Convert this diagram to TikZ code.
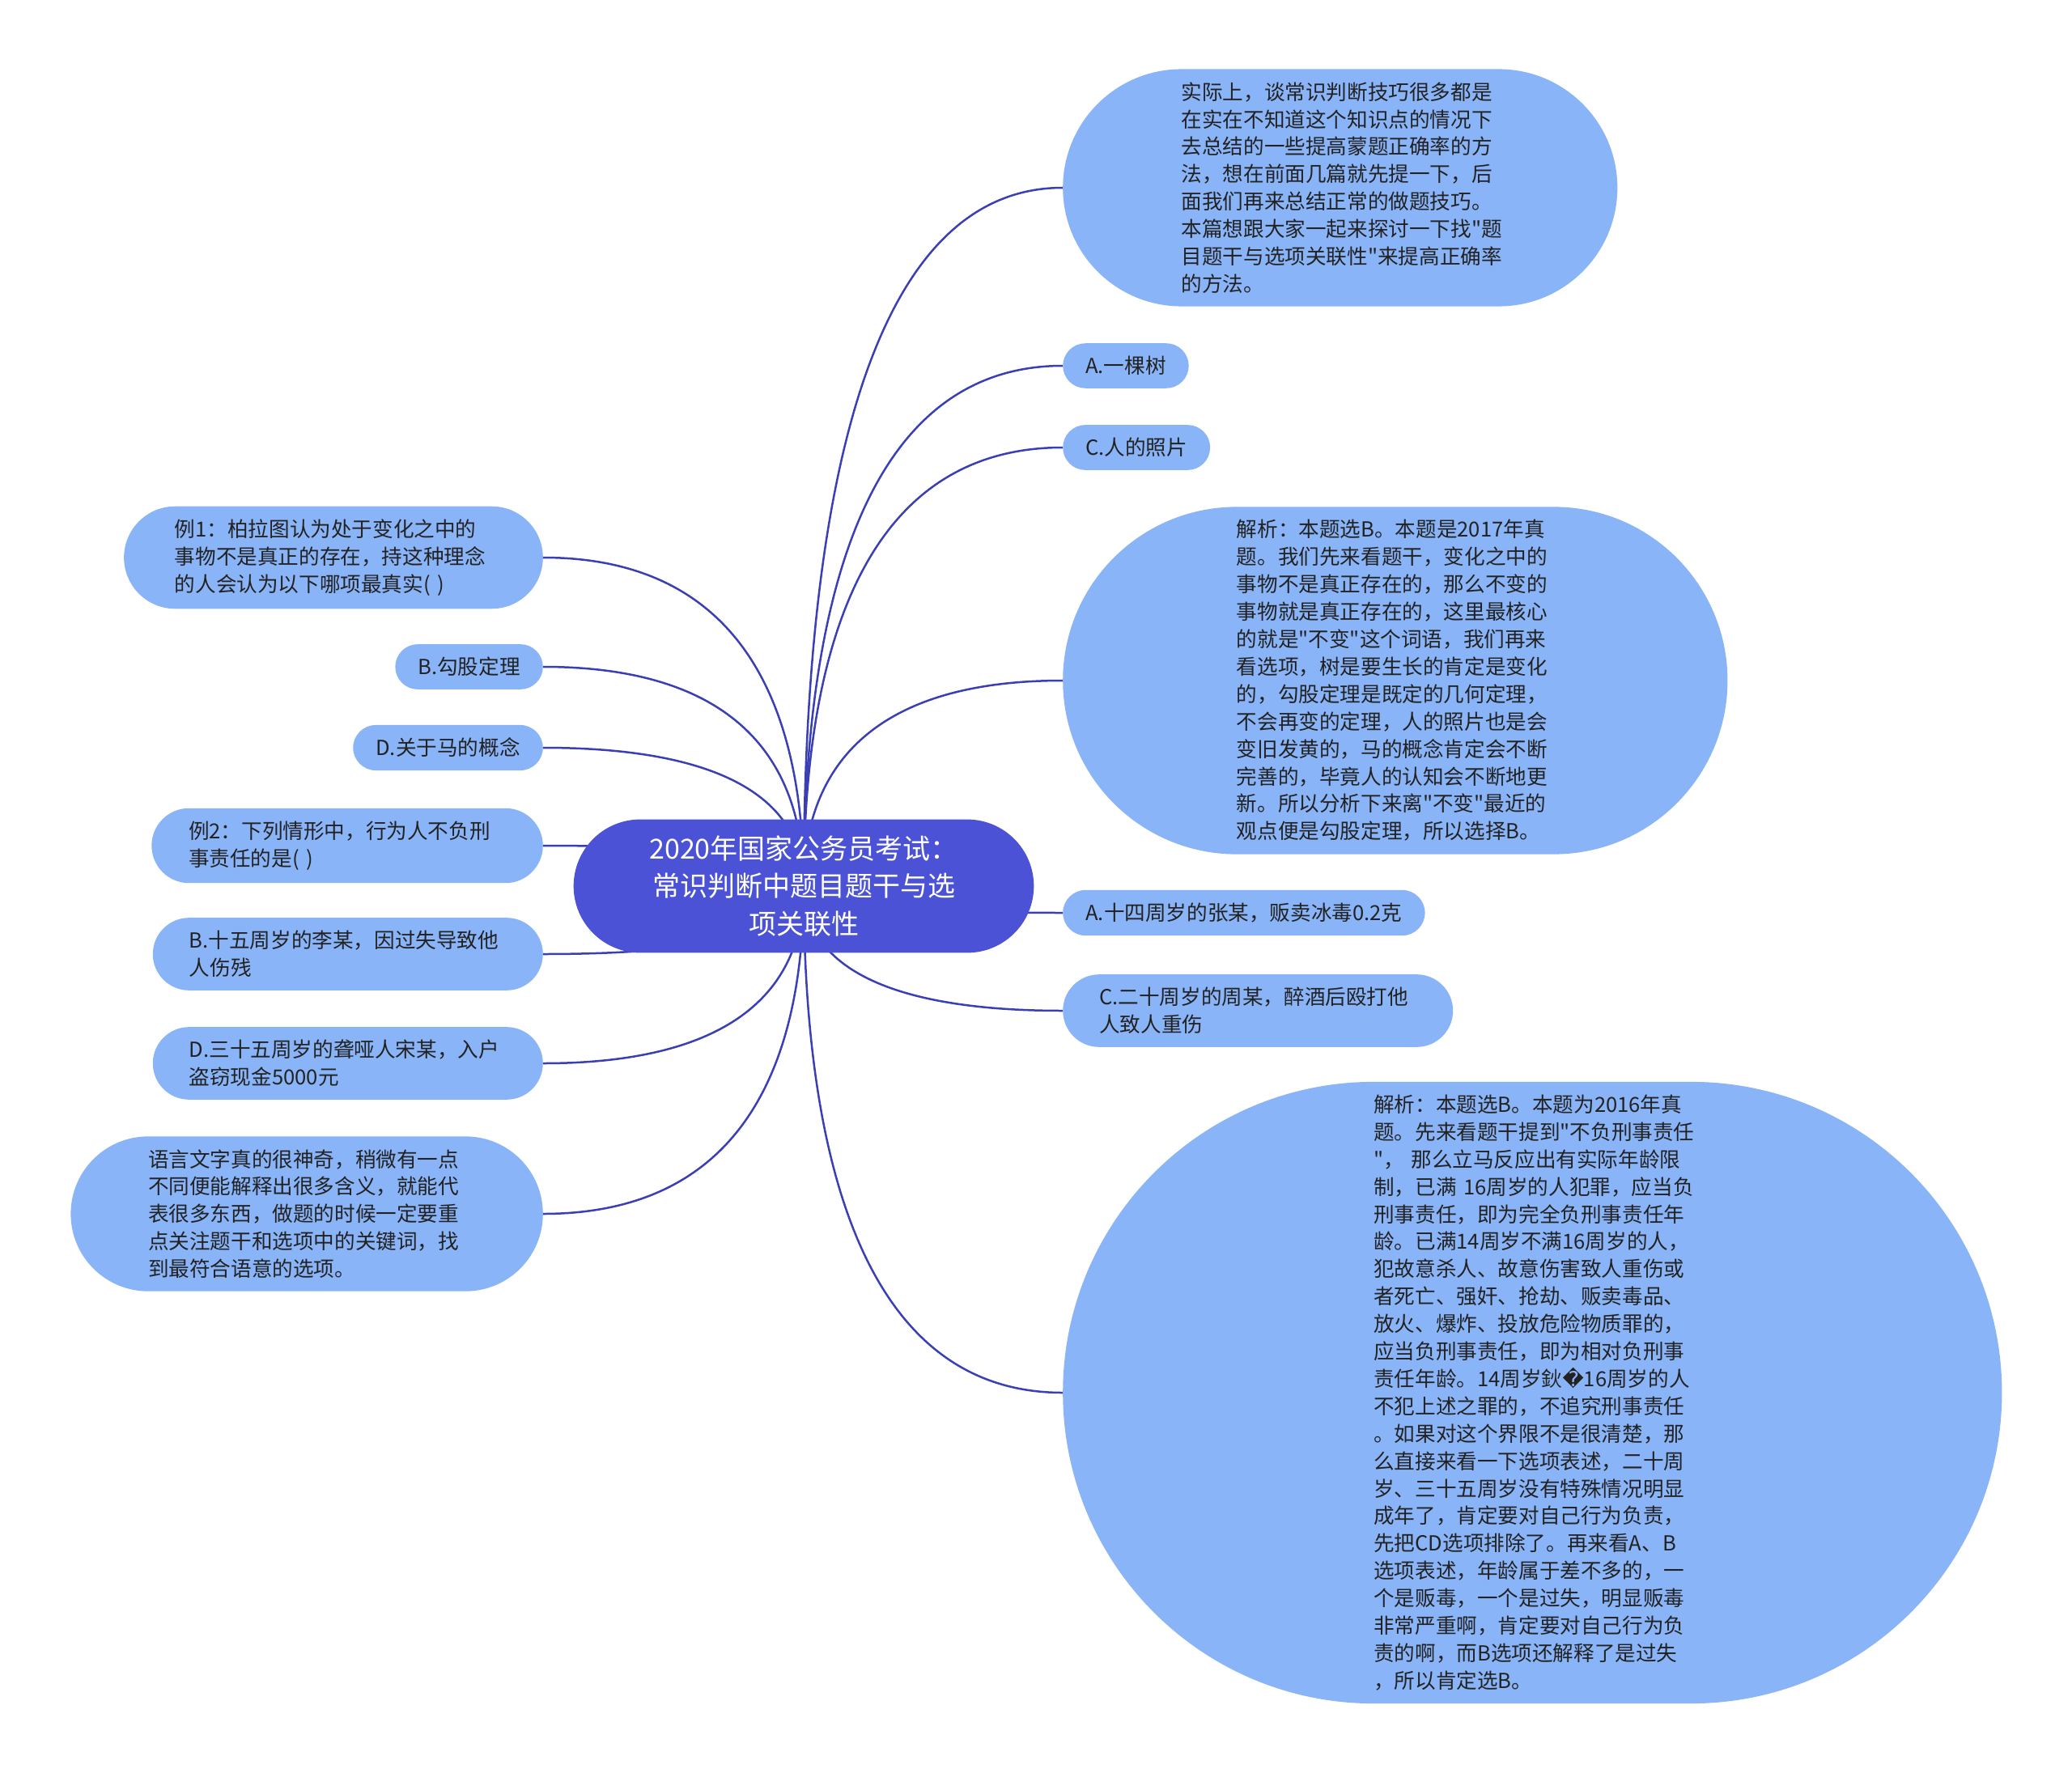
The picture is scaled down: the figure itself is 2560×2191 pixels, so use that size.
\documentclass[tikz,border=0pt]{standalone}
\usepackage{fontspec}
\setmainfont{Noto Sans CJK SC}[Ligatures=TeXOff]
\newfontfamily\fallbackfont{DejaVu Sans}
\usetikzlibrary{shapes.misc,calc,backgrounds}

\definecolor{rootblue}{HTML}{4B52D6}
\definecolor{leafblue}{HTML}{8AB4F8}
\definecolor{linkblue}{HTML}{3A3FB4}
\definecolor{leaftext}{HTML}{222222}

\tikzset{
	maintopic/.style={rounded rectangle, fill=rootblue, text=white, align=center,
		inner xsep=65pt, inner ysep=20pt, font=\fontsize{34}{46.5}\selectfont},
	% #1 = inner xsep, so that the round ends sit beside the text
	subtopic/.style={rounded rectangle, fill=leafblue, text=leaftext, align=left,
		inner xsep=#1, inner ysep=16pt, font=\fontsize{25.6}{33.9}\selectfont},
	wrapped/.style={text width=392pt},
	branch/.style={draw=linkblue, line width=2.5pt,
		to path={.. controls ($(\tikztostart)!0.5!(\tikztostart |- \tikztotarget)$)
			and ($(\tikztostart |- \tikztotarget)!0.2!(\tikztotarget)$) .. (\tikztotarget)}},
}

\begin{document}
\begin{tikzpicture}[x=1pt,y=-1pt]
	\useasboundingbox (0,0) rectangle (2560,2191);
	% root
	\node[maintopic] (ctr) at (993,1095) {2020年国家公务员考试：\\常识判断中题目题干与选\\项关联性};
	% right side
	\node[subtopic=66.6pt, wrapped, anchor=west] (r1) at (1313,232) {实际上，谈常识判断技巧很多都是\\在实在不知道这个知识点的情况下\\去总结的一些提高蒙题正确率的方\\法，想在前面几篇就先提一下，后\\面我们再来总结正常的做题技巧。\\本篇想跟大家一起来探讨一下找"题\\目题干与选项关联性"来提高正确率\\的方法。};
	\node[subtopic=25.4pt, anchor=west] (r2) at (1313,452) {A.一棵树};
	\node[subtopic=25.4pt, anchor=west] (r3) at (1313,553) {C.人的照片};
	\node[subtopic=81.3pt, wrapped, anchor=west] (r4) at (1313,841) {解析：本题选B。本题是2017年真\\题。我们先来看题干，变化之中的\\事物不是真正存在的，那么不变的\\事物就是真正存在的，这里最核心\\的就是"不变"这个词语，我们再来\\看选项，树是要生长的肯定是变化\\的，勾股定理是既定的几何定理，\\不会再变的定理，人的照片也是会\\变旧发黄的，马的概念肯定会不断\\完善的，毕竟人的认知会不断地更\\新。所以分析下来离"不变"最近的\\观点便是勾股定理，所以选择B。};
	\node[subtopic=25.4pt, anchor=west] (r5) at (1313,1128) {A.十四周岁的张某，贩卖冰毒0.2克};
	\node[subtopic=34.5pt, wrapped, anchor=west] (r6) at (1313,1249) {C.二十周岁的周某，醉酒后殴打他\\人致人重伤};
	\node[subtopic=109.7pt, wrapped, anchor=west] (r7) at (1313,1721) {解析：本题选B。本题为2016年真\\题。先来看题干提到"不负刑事责任\\"，~那么立马反应出有实际年龄限\\制，已满~16周岁的人犯罪，应当负\\刑事责任，即为完全负刑事责任年\\龄。已满14周岁不满16周岁的人，\\犯故意杀人、故意伤害致人重伤或\\者死亡、强奸、抢劫、贩卖毒品、\\放火、爆炸、投放危险物质罪的，\\应当负刑事责任，即为相对负刑事\\责任年龄。14周岁鈥{\fallbackfont\symbol{"FFFD}}16周岁的人\\不犯上述之罪的，不追究刑事责任\\。如果对这个界限不是很清楚，那\\么直接来看一下选项表述，二十周\\岁、三十五周岁没有特殊情况明显\\成年了，肯定要对自己行为负责，\\先把CD选项排除了。再来看A、B\\选项表述，年龄属于差不多的，一\\个是贩毒，一个是过失，明显贩毒\\非常严重啊，肯定要对自己行为负\\责的啊，而B选项还解释了是过失\\，所以肯定选B。};
	% left side
	\node[subtopic=41.6pt, wrapped, anchor=east] (l1) at (671,689) {例1：柏拉图认为处于变化之中的\\事物不是真正的存在，持这种理念\\的人会认为以下哪项最真实( )};
	\node[subtopic=25.4pt, anchor=east] (l2) at (671,824) {B.勾股定理};
	\node[subtopic=25.4pt, anchor=east] (l3) at (671,924) {D.关于马的概念};
	\node[subtopic=34.5pt, wrapped, anchor=east] (l4) at (671,1045) {例2：下列情形中，行为人不负刑\\事责任的是( )};
	\node[subtopic=34.5pt, wrapped, anchor=east] (l5) at (671,1179) {B.十五周岁的李某，因过失导致他\\人伤残};
	\node[subtopic=34.5pt, wrapped, anchor=east] (l6) at (671,1314) {D.三十五周岁的聋哑人宋某，入户\\盗窃现金5000元};
	\node[subtopic=53pt, wrapped, anchor=east] (l7) at (671,1500) {语言文字真的很神奇，稍微有一点\\不同便能解释出很多含义，就能代\\表很多东西，做题的时候一定要重\\点关注题干和选项中的关键词，找\\到最符合语意的选项。};
	% connectors
	\begin{scope}[on background layer]
		\foreach \n in {r1,r2,r3,r4,r5,r6,r7}
			\draw[branch] (ctr.center) to (\n.west);
		\foreach \n in {l1,l2,l3,l4,l5,l6,l7}
			\draw[branch] (ctr.center) to (\n.east);
	\end{scope}
\end{tikzpicture}
\end{document}
